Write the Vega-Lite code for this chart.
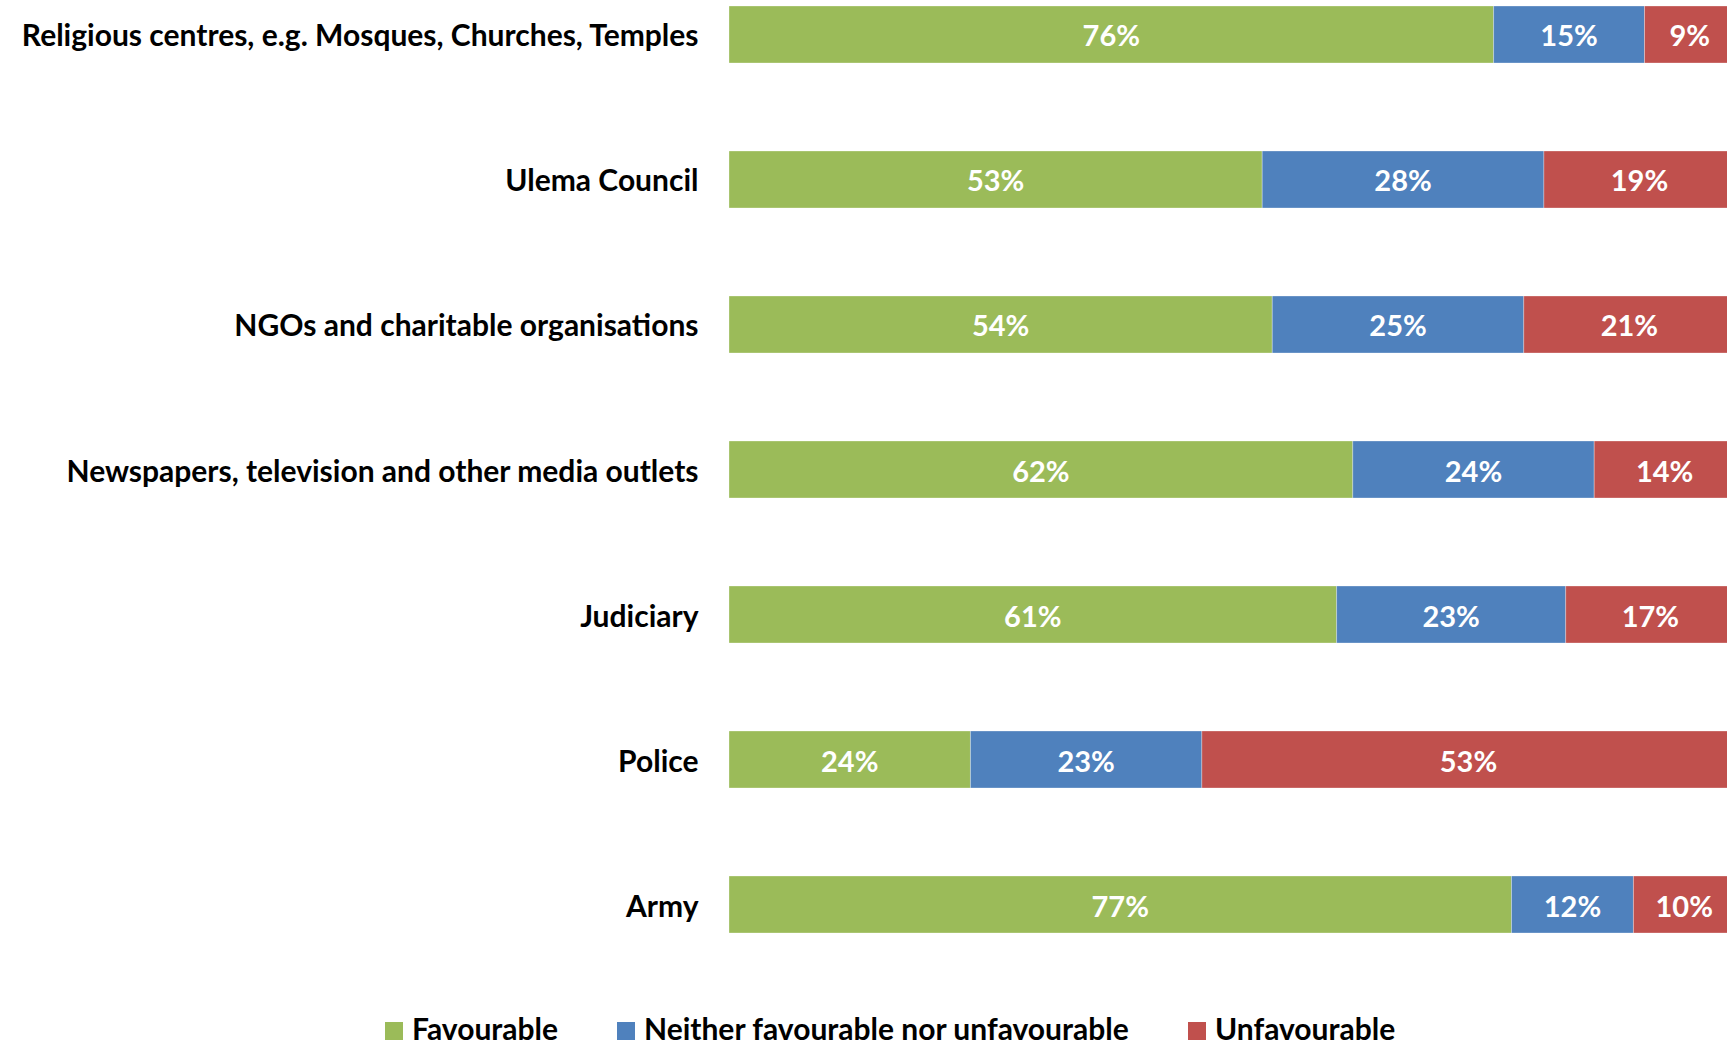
{
  "$schema": "https://vega.github.io/schema/vega-lite/v6.json",
  "width": 998,
  "height": 939,
  "autosize": {"type": "none"},
  "padding": {"left": 729, "top": 0, "right": 0, "bottom": 108},
  "background": "#ffffff",
  "config": {
    "view": {"stroke": null},
    "font": "Lato"
  },
  "data": {
    "values": [
      {"category": "Religious centres, e.g. Mosques, Churches, Temples", "response": "Favourable", "value": 0.76},
      {"category": "Religious centres, e.g. Mosques, Churches, Temples", "response": "Neither favourable nor unfavourable", "value": 0.15},
      {"category": "Religious centres, e.g. Mosques, Churches, Temples", "response": "Unfavourable", "value": 0.09},
      {"category": "Ulema Council", "response": "Favourable", "value": 0.53},
      {"category": "Ulema Council", "response": "Neither favourable nor unfavourable", "value": 0.28},
      {"category": "Ulema Council", "response": "Unfavourable", "value": 0.19},
      {"category": "NGOs and charitable organisations", "response": "Favourable", "value": 0.54},
      {"category": "NGOs and charitable organisations", "response": "Neither favourable nor unfavourable", "value": 0.25},
      {"category": "NGOs and charitable organisations", "response": "Unfavourable", "value": 0.21},
      {"category": "Newspapers, television and other media outlets", "response": "Favourable", "value": 0.62},
      {"category": "Newspapers, television and other media outlets", "response": "Neither favourable nor unfavourable", "value": 0.24},
      {"category": "Newspapers, television and other media outlets", "response": "Unfavourable", "value": 0.14},
      {"category": "Judiciary", "response": "Favourable", "value": 0.61},
      {"category": "Judiciary", "response": "Neither favourable nor unfavourable", "value": 0.23},
      {"category": "Judiciary", "response": "Unfavourable", "value": 0.17},
      {"category": "Police", "response": "Favourable", "value": 0.24},
      {"category": "Police", "response": "Neither favourable nor unfavourable", "value": 0.23},
      {"category": "Police", "response": "Unfavourable", "value": 0.53},
      {"category": "Army", "response": "Favourable", "value": 0.77},
      {"category": "Army", "response": "Neither favourable nor unfavourable", "value": 0.12},
      {"category": "Army", "response": "Unfavourable", "value": 0.10}
    ]
  },
  "encoding": {
    "y": {
      "field": "category",
      "type": "nominal",
      "sort": null,
      "scale": {"paddingInner": 0.607, "paddingOuter": 0.0414},
      "axis": {
        "title": null,
        "ticks": false,
        "domain": false,
        "grid": false,
        "labelPadding": 31,
        "labelOffset": 3,
        "labelFont": "Lato",
        "labelFontWeight": "bold",
        "labelFontSize": 30,
        "labelColor": "#000000",
        "labelLimit": 1000
      }
    },
    "x": {
      "field": "value",
      "type": "quantitative",
      "stack": "normalize",
      "scale": {"domain": [0, 0.992], "nice": false, "zero": true},
      "axis": null
    },
    "order": {"field": "response", "sort": "ascending"}
  },
  "layer": [
    {
      "mark": {"type": "bar", "clip": true, "stroke": "#ffffff", "strokeWidth": 0.6, "strokeOpacity": 0.5},
      "encoding": {
        "color": {
          "field": "response",
          "type": "nominal",
          "scale": {
            "domain": ["Favourable", "Neither favourable nor unfavourable", "Unfavourable"],
            "range": ["#9BBB59", "#4F81BD", "#C0504D"]
          },
          "legend": {
            "title": null,
            "orient": "none",
            "direction": "horizontal",
            "legendX": -350,
            "legendY": 1016,
            "symbolType": "square",
            "symbolSize": 324,
            "symbolStrokeWidth": 0,
            "labelFont": "Lato",
            "labelFontWeight": "bold",
            "labelFontSize": 30,
            "labelColor": "#000000",
            "labelOffset": 3,
            "labelLimit": 1000,
            "columnPadding": 52
          }
        }
      }
    },
    {
      "mark": {
        "type": "text",
        "color": "#ffffff",
        "font": "Lato",
        "fontWeight": "bold",
        "fontSize": 29,
        "align": "center",
        "baseline": "middle",
        "dy": 3
      },
      "encoding": {
        "x": {
          "field": "value",
          "type": "quantitative",
          "stack": "normalize",
          "bandPosition": 0.5
        },
        "detail": {"field": "response"},
        "text": {"field": "value", "type": "quantitative", "format": ".0%"}
      }
    }
  ]
}
